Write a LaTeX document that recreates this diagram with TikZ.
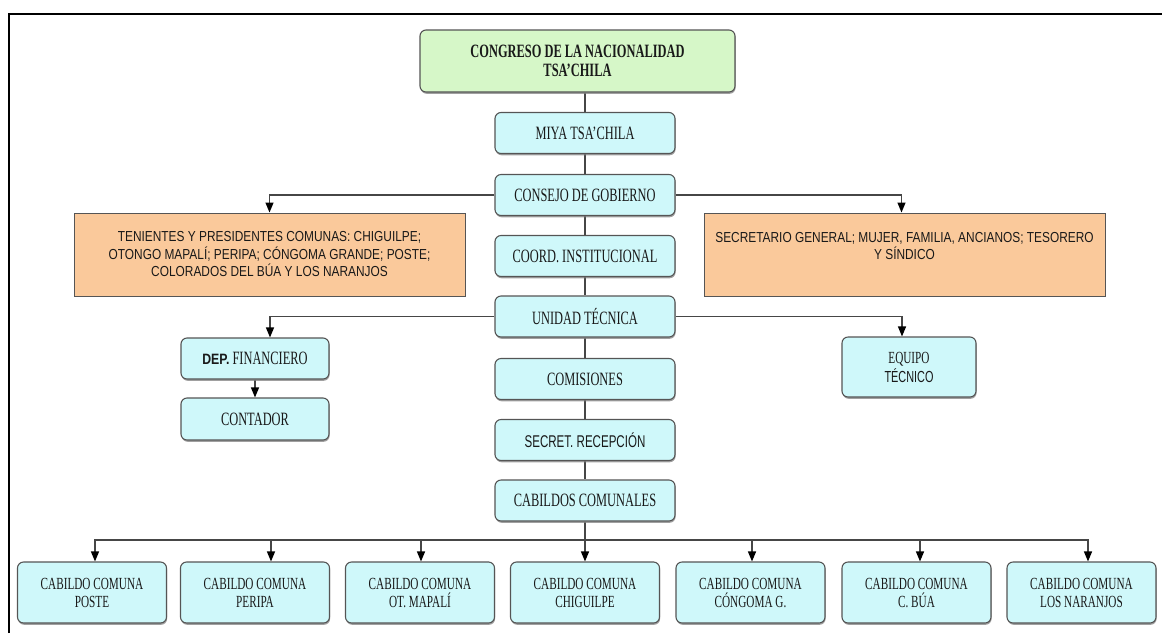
\documentclass[tikz,border=0pt]{standalone}
\usepackage{fontspec}
\setmainfont{Liberation Serif}[FakeStretch=0.66]
\newfontfamily\sansn{Liberation Sans}[FakeStretch=0.82]
\newfontfamily\sansc{Liberation Sans}[FakeStretch=0.68]
\usetikzlibrary{arrows.meta,shadows,backgrounds}
\definecolor{cyanfill}{RGB}{207,248,250}
\definecolor{greenfill}{RGB}{214,247,200}
\definecolor{orangefill}{RGB}{250,201,155}
\definecolor{boxline}{RGB}{85,85,85}
\definecolor{connc}{RGB}{70,70,70}
\definecolor{textc}{RGB}{25,25,25}
\begin{document}
\begin{tikzpicture}[x=1pt,y=-1pt,
  shad/.style={drop shadow={shadow xshift=0.6pt,shadow yshift=-1.8pt,opacity=0.75}},
  cbox/.style={shad,draw=boxline,line width=1.1pt,fill=cyanfill,rounded corners=6pt,
    minimum width=180pt,minimum height=41pt,inner sep=0pt,align=center,text=textc,
    font=\fontsize{18.8}{19}\selectfont},
  gbox/.style={cbox,fill=greenfill,minimum width=315pt,minimum height=62pt,
    font=\fontsize{18.8}{19}\selectfont\bfseries},
  obox/.style={draw=boxline,line width=1pt,fill=orangefill,inner sep=0pt,align=center,
    minimum height=83pt,text=textc,font=\sansn\fontsize{14.5}{17.5}\selectfont},
  bbox/.style={cbox,minimum width=149pt,minimum height=61pt,font=\fontsize{17}{18}\selectfont},
  conn/.style={draw=connc,line width=1.3pt},
  arr/.style={conn,-{Triangle[width=8pt,length=10pt,color=black]}}
]
\useasboundingbox (0,0) rectangle (1162,633);
\draw[line width=2.5pt] (9,633) -- (9,14) -- (1162,14);

% top and main column
\node[gbox] (congreso) at (577.5,61) {CONGRESO DE LA NACIONALIDAD\\TSA’CHILA};
\node[cbox] (miya) at (585,133) {MIYA TSA’CHILA};
\node[cbox] (consejo) at (585,195) {CONSEJO DE GOBIERNO};
\node[cbox] (coord) at (585,256) {COORD. INSTITUCIONAL};
\node[cbox] (unidad) at (585,316.5) {UNIDAD TÉCNICA};
\node[cbox] (comisiones) at (585,379) {COMISIONES};
\node[cbox] (secret) at (585,440) {{\sansc\fontsize{17}{18}\selectfont SECRET. RECEPCIÓN}};
\node[cbox] (cabildos) at (585,500.5) {CABILDOS COMUNALES};

% side boxes
\node[obox,minimum width=391pt] (tenientes) at (269.5,254.5)
  {TENIENTES Y PRESIDENTES COMUNAS: CHIGUILPE;\\OTONGO MAPALÍ; PERIPA; CÓNGOMA GRANDE; POSTE;\\COLORADOS DEL BÚA Y LOS NARANJOS};
\node[obox,minimum width=401pt] (secgen) at (904.5,254.5)
  {SECRETARIO GENERAL; MUJER, FAMILIA, ANCIANOS; TESORERO\\Y SÍNDICO\\\mbox{}};
\node[cbox,minimum width=148pt] (dep) at (255,358.5)
  {{\sansn\bfseries\fontsize{15}{18}\selectfont DEP.} FINANCIERO};
\node[cbox,minimum width=148pt,minimum height=42pt] (contador) at (255,419) {CONTADOR};
\node[cbox,minimum width=134pt,minimum height=60pt,font=\fontsize{17}{19}\selectfont] (equipo) at (909,367)
  {EQUIPO\\{\sansc\fontsize{16}{19}\selectfont TÉCNICO}};

% bottom row
\node[bbox] (poste) at (92,592.5) {CABILDO COMUNA\\POSTE};
\node[bbox] (peripa) at (255,592.5) {CABILDO COMUNA\\PERIPA};
\node[bbox] (mapali) at (420,592.5) {CABILDO COMUNA\\OT. MAPALÍ};
\node[bbox] (chiguilpe) at (585,592.5) {CABILDO COMUNA\\CHIGUILPE};
\node[bbox] (congoma) at (750.5,592.5) {CABILDO COMUNA\\CÓNGOMA G.};
\node[bbox] (cbua) at (916.5,592.5) {CABILDO COMUNA\\C. BÚA};
\node[bbox] (naranjos) at (1081.5,592.5) {CABILDO COMUNA\\LOS NARANJOS};
\coordinate (bus) at (585,540);

\begin{pgfonlayer}{background}
\draw[conn] (miya.north |- congreso.south) -- (miya.north);
\draw[conn] (miya) -- (consejo);
\draw[conn] (consejo) -- (coord);
\draw[conn] (coord) -- (unidad);
\draw[conn] (unidad) -- (comisiones);
\draw[conn] (comisiones) -- (secret);
\draw[conn] (secret) -- (cabildos);
\draw[arr] (consejo) -| (tenientes.north);
\draw[arr] (consejo) -| ([xshift=-3pt]secgen.north);
\draw[arr] (unidad) -| ([xshift=15pt]dep.north);
\draw[arr] (unidad) -| ([xshift=-7pt]equipo.north);
\draw[arr] (dep) -- (contador);
\draw[arr] (cabildos) -- (chiguilpe);
\draw[arr] (bus) -| ([xshift=3pt]poste.north);
\draw[arr] (bus) -| ([xshift=16pt]peripa.north);
\draw[arr] (bus) -| ([xshift=1pt]mapali.north);
\draw[arr] (bus) -| ([xshift=1.5pt]congoma.north);
\draw[arr] (bus) -| ([xshift=3.5pt]cbua.north);
\draw[arr] (bus) -| ([xshift=6.5pt]naranjos.north);
\end{pgfonlayer}
\end{tikzpicture}
\end{document}
